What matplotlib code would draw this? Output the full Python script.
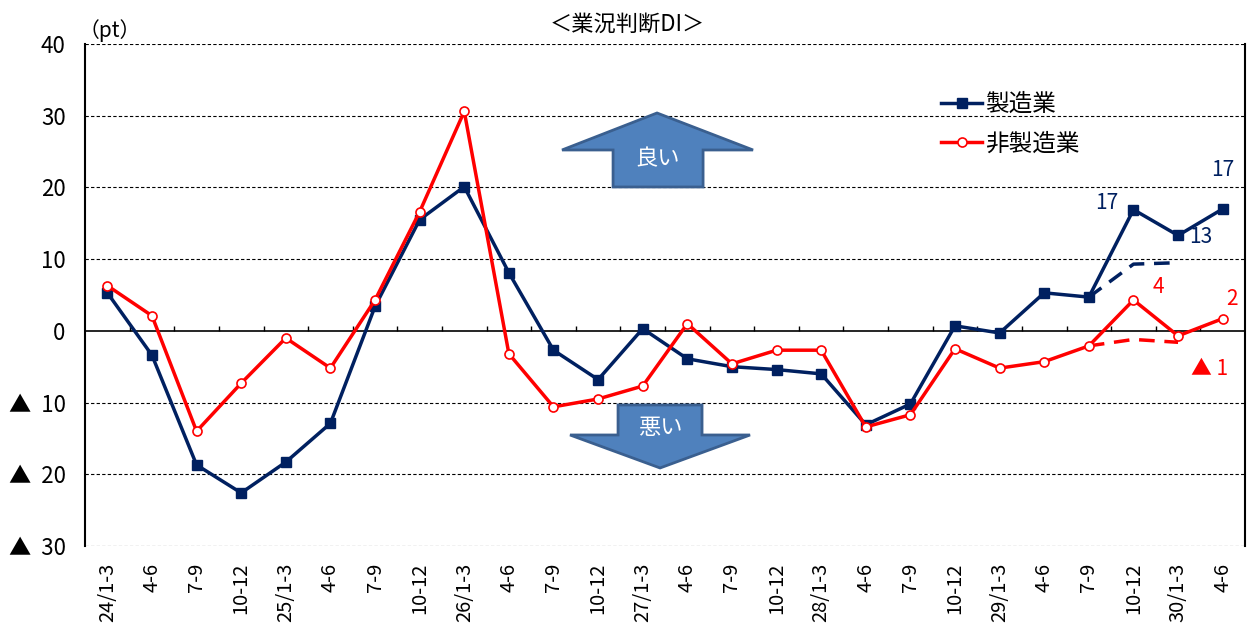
import matplotlib
matplotlib.use('Agg')
import matplotlib.pyplot as plt
from matplotlib.patches import Polygon
import numpy as np

plt.rcParams['font.family'] = ['Noto Sans CJK JP', 'DejaVu Sans']

# ---- data ----
quarters = ['24/1-3', '4-6', '7-9', '10-12',
            '25/1-3', '4-6', '7-9', '10-12',
            '26/1-3', '4-6', '7-9', '10-12',
            '27/1-3', '4-6', '7-9', '10-12',
            '28/1-3', '4-6', '7-9', '10-12',
            '29/1-3', '4-6', '7-9', '10-12',
            '30/1-3', '4-6']
manuf = [5.3, -3.4, -18.7, -22.6, -18.3, -12.9, 3.4, 15.5, 20.1, 8.1,
         -2.7, -6.8, 0.3, -3.9, -5.0, -5.4, -6.0, -13.1, -10.2, 0.7,
         -0.3, 5.3, 4.7, 16.9, 13.3, 17.0]
nonmanuf = [6.3, 2.1, -14.0, -7.3, -1.0, -5.2, 4.3, 16.6, 30.6, -3.2,
            -10.6, -9.5, -7.7, 1.0, -4.6, -2.7, -2.7, -13.4, -11.7, -2.5,
            -5.2, -4.3, -2.1, 4.3, -0.7, 1.7]
# forecast (dashed) : start at index 22
fc_idx = [22, 23, 24]
manuf_fc = [4.7, 9.3, 9.5]
nonmanuf_fc = [-2.1, -1.2, -1.6]

yticks = [40, 30, 20, 10, 0, -10, -20, -30]
ytick_labels = ['40', '30', '20', '10', '0', '▲  10', '▲  20', '▲  30']

navy = '#002060'
red = '#FF0000'

fig = plt.figure(figsize=(12.47, 6.28), dpi=100)
ax = fig.add_axes([0.0682, 0.1306, 0.9302, 0.7994])

x = np.arange(len(quarters))
ax.set_xlim(-0.5, len(quarters) - 0.5)
ax.set_ylim(-30, 40)

# grid lines
for v in yticks:
    if v != 0:
        ax.axhline(v, color='black', lw=0.8, ls=(0, (3, 2)), zorder=1)
ax.axhline(0, color='black', lw=1.2, zorder=2)
# small ticks on zero line at category boundaries
bounds = np.arange(0.5, len(quarters) - 0.5, 1.0)
ax.vlines(bounds, 0, 0.7, color='black', lw=1.0, zorder=2)

ax.plot(fc_idx, manuf_fc, color=navy, lw=2.5, ls=(0, (4.5, 2.8)), zorder=3)
ax.plot(fc_idx, nonmanuf_fc, color=red, lw=2.5, ls=(0, (4.5, 2.8)), zorder=3)
ax.plot(x, manuf, color=navy, lw=2.5, marker='s', ms=6.5,
        label='製造業', zorder=4)
ax.plot(x, nonmanuf, color=red, lw=2.5, marker='o', ms=6.5,
        mfc='white', mec=red, mew=1.2, label='非製造業', zorder=4)

ax.set_xticks(x)
ax.set_xticklabels(quarters, rotation=90, fontsize=14.5)
ax.tick_params(axis='x', length=0, pad=12)
ax.set_yticks(yticks)
ax.set_yticklabels(ytick_labels, fontsize=16)
ax.tick_params(axis='y', length=0, pad=14)

ax.spines['top'].set_visible(False)
ax.spines['bottom'].set_visible(False)
ax.spines['left'].set_linewidth(1.5)
ax.spines['right'].set_linewidth(1.5)

leg = ax.legend(loc='upper left', bbox_to_anchor=(0.72, 0.945), frameon=False,
                fontsize=17, handlelength=1.7, labelspacing=0.7,
                handletextpad=0.15)

# value labels
ax.annotate('17', (23, manuf[23]), xytext=(-19, 5), textcoords='offset points',
            ha='center', va='center', color=navy, fontsize=15)
ax.annotate('17', (25, manuf[25]), xytext=(0, 28), textcoords='offset points',
            ha='center', va='center', color=navy, fontsize=15)
ax.annotate('13', (24, manuf[24]), xytext=(16, -1), textcoords='offset points',
            ha='center', va='center', color=navy, fontsize=15)
ax.annotate('4', (23, nonmanuf[23]), xytext=(18, 9), textcoords='offset points',
            ha='center', va='center', color=red, fontsize=15)
ax.annotate('2', (25, nonmanuf[25]), xytext=(7, 14), textcoords='offset points',
            ha='center', va='center', color=red, fontsize=15)
ax.annotate('▲ 1', (24, nonmanuf_fc[2]), xytext=(23, -19), textcoords='offset points',
            ha='center', va='center', color=red, fontsize=15)

# arrows
fill = '#4F81BD'
edge = '#3A5F8F'
up = [(0.4931, 0.8625), (0.5759, 0.7888), (0.5328, 0.7888), (0.5328, 0.7151),
      (0.4552, 0.7151), (0.4552, 0.7888), (0.4112, 0.7888)]
down = [(0.4595, 0.2809), (0.5319, 0.2809), (0.5319, 0.2211), (0.5733, 0.2211),
        (0.4957, 0.1554), (0.4181, 0.2211), (0.4595, 0.2211)]
for pts in (up, down):
    ax.add_patch(Polygon(pts, closed=True, transform=ax.transAxes,
                         facecolor=fill, edgecolor=edge, lw=2, zorder=2))
ax.text(0.494, 0.772, '良い', transform=ax.transAxes, ha='center', va='center',
        color='white', fontsize=16, zorder=3)
ax.text(0.496, 0.236, '悪い', transform=ax.transAxes, ha='center', va='center',
        color='white', fontsize=16, zorder=3)

fig.text(0.503, 0.962, '＜業況判断DI＞', ha='center', va='center', fontsize=16)
fig.text(0.088, 0.952, '（pt）', ha='center', va='center', fontsize=15)

fig.savefig('out.png', dpi=100)
